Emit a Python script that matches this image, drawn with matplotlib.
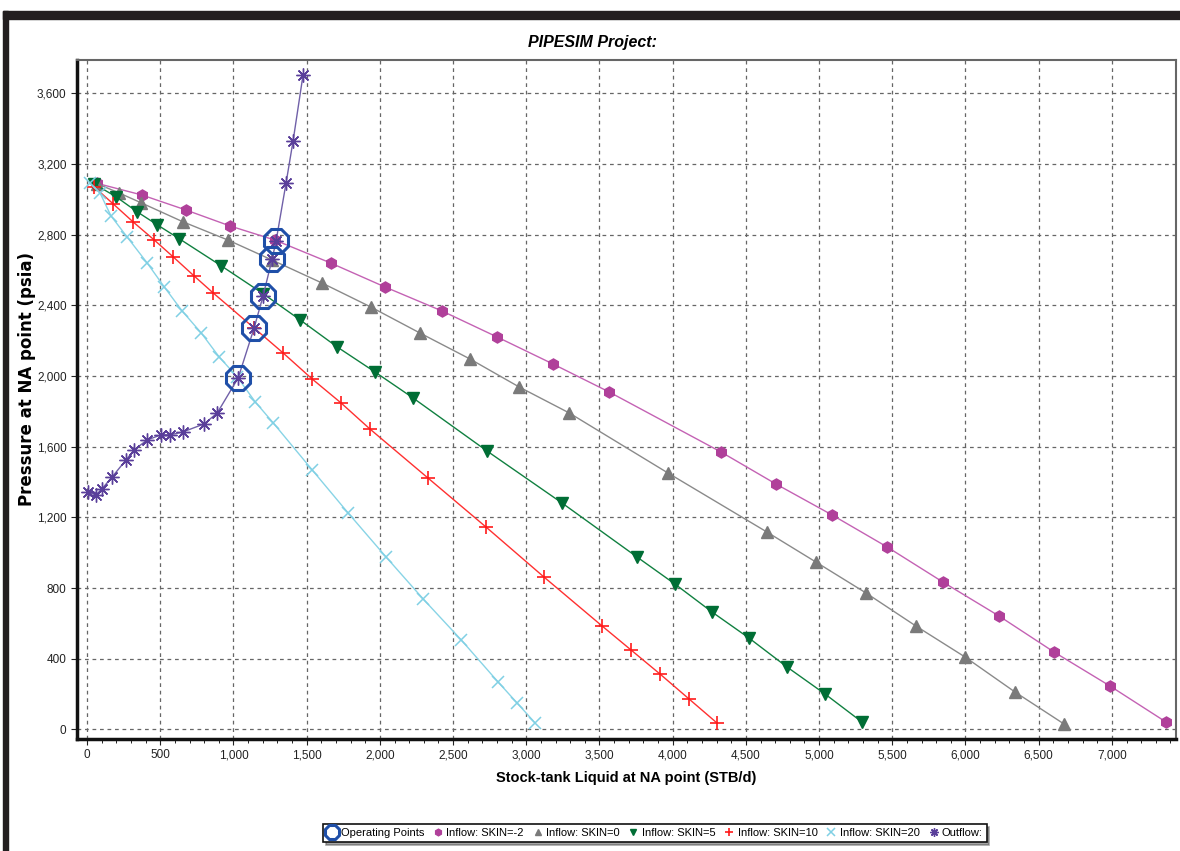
import matplotlib
matplotlib.use("Agg")
import matplotlib.pyplot as plt
from matplotlib.ticker import FuncFormatter, MultipleLocator
from matplotlib.patches import Rectangle

plt.rcParams['font.family'] = ['Liberation Sans', 'DejaVu Sans']

# inflow curves
skm2_q = [68, 375, 676, 976, 1283, 1665, 2034, 2424, 2800, 3182, 3565, 4330, 4705, 5088, 5464, 5846, 6229, 6605, 6987, 7370]
skm2_p = [3090, 3024, 2939, 2849, 2769, 2639, 2504, 2368, 2221, 2068, 1910, 1570, 1389, 1214, 1033, 834, 642, 438, 246, 42]

sk0_q = [68, 218, 369, 656, 963, 1264, 1605, 1939, 2274, 2616, 2951, 3293, 3968, 4644, 4979, 5321, 5662, 5997, 6338, 6673]
sk0_p = [3088, 3036, 2980, 2872, 2769, 2656, 2526, 2390, 2243, 2096, 1938, 1791, 1451, 1117, 947, 772, 585, 410, 212, 31]

sk5_q = [48, 198, 342, 478, 629, 915, 1202, 1454, 1707, 1966, 2226, 2731, 3243, 3756, 4015, 4268, 4520, 4780, 5040, 5293]
sk5_p = [3087, 3014, 2929, 2856, 2777, 2624, 2466, 2318, 2165, 2023, 1876, 1576, 1282, 976, 823, 665, 518, 354, 201, 42]

sk10_q = [48, 178, 314, 458, 588, 731, 861, 1140, 1338, 1536, 1734, 1932, 2328, 2724, 3120, 3517, 3715, 3913, 4111, 4302]
sk10_p = [3070, 2974, 2872, 2770, 2674, 2566, 2470, 2272, 2131, 1984, 1848, 1700, 1423, 1146, 863, 586, 450, 314, 173, 37]

sk20_q = [20, 88, 163, 273, 410, 527, 649, 779, 902, 1025, 1148, 1271, 1537, 1783, 2042, 2295, 2555, 2807, 2937, 3060]
sk20_p = [3090, 3036, 2906, 2787, 2640, 2504, 2368, 2244, 2108, 1995, 1854, 1735, 1469, 1225, 976, 739, 507, 269, 150, 37]

out_q = [6, 60, 101, 171, 266, 321, 410, 505, 567, 656, 800, 889, 1032, 1141, 1202, 1264, 1291, 1359, 1407, 1475]
out_p = [1344, 1327, 1361, 1429, 1525, 1582, 1638, 1667, 1667, 1684, 1729, 1791, 1989, 2272, 2453, 2662, 2764, 3092, 3330, 3703]

op_q = [1032, 1141, 1202, 1264, 1291]
op_p = [1989, 2272, 2453, 2662, 2764]

fig = plt.figure(figsize=(11.8, 8.51), dpi=100)
ax = fig.add_axes([77/1180, 1 - 739/851, (1176 - 77)/1180, (739 - 60)/851])

# dark frame of the screenshot
fig.patches.append(Rectangle((3/1180, 1 - 19/851), 1, 8/851, transform=fig.transFigure,
                             color='#231f20', zorder=0))
fig.patches.append(Rectangle((3/1180, 0), 5/1180, 1 - 11/851, transform=fig.transFigure,
                             color='#231f20', zorder=0))

ax.plot(skm2_q, skm2_p, color='#c462b4', lw=1, marker='h', ms=8, mfc='#b0409a', mec='#b0409a',
        label='Inflow: SKIN=-2', zorder=3)
ax.plot(sk0_q, sk0_p, color='#8a8a8a', lw=1, marker='^', ms=8, mfc='#7a7a7a', mec='#7a7a7a',
        label='Inflow: SKIN=0', zorder=3)
ax.plot(sk5_q, sk5_p, color='#108040', lw=1, marker='v', ms=8, mfc='#006e35', mec='#006e35',
        label='Inflow: SKIN=5', zorder=3)
ax.plot(sk10_q, sk10_p, color='#ff3030', lw=1, marker='+', ms=10, mew=1.2, mec='#ff1a1a',
        label='Inflow: SKIN=10', zorder=3)
ax.plot(sk20_q, sk20_p, color='#88d4e6', lw=1, marker='x', ms=9, mew=1.1, mec='#80d0e4',
        label='Inflow: SKIN=20', zorder=3)
ax.plot(out_q, out_p, color='#7060a8', lw=1, marker=(8, 2, 0), ms=10, mew=1, mec='#5a3f9a',
        label='Outflow:', zorder=4)
ax.plot(op_q, op_p, ls='none', marker='8', ms=18, mfc='none', mec='#1f4fa8', mew=2.2,
        label='Operating Points', zorder=5)

ax.set_xlim(-69, 7438)
ax.set_ylim(-54, 3788)
ax.xaxis.set_major_locator(MultipleLocator(500))
ax.xaxis.set_minor_locator(MultipleLocator(100))
ax.yaxis.set_major_locator(MultipleLocator(400))
fmt = FuncFormatter(lambda v, p: f'{v:,.0f}')
ax.xaxis.set_major_formatter(fmt)
ax.yaxis.set_major_formatter(fmt)
ax.tick_params(labelsize=8.5, colors='#222222', length=4)
ax.tick_params(axis='x', which='minor', length=3)
ax.grid(True, color='#666666', ls=(0, (3, 3)), lw=0.9)
ax.set_axisbelow(True)

for side in ['top', 'right']:
    ax.spines[side].set_color('#666666')
    ax.spines[side].set_linewidth(1.5)
for side in ['left', 'bottom']:
    ax.spines[side].set_color('#111111')
    ax.spines[side].set_linewidth(2.5)

ax.set_xlabel('Stock-tank Liquid at NA point (STB/d)', fontsize=10.5, fontweight='bold', labelpad=7)
ax.set_ylabel('Pressure at NA point (psia)', family=['DejaVu Sans'],
              fontsize=12, fontweight='bold')
ax.yaxis.set_label_coords(-0.037, 0.53)
fig.text(593/1180, 1 - 42/851, 'PIPESIM Project:', ha='center', va='center',
         fontsize=11.5, fontweight='bold', style='italic')

h, l = ax.get_legend_handles_labels()
order = [6, 0, 1, 2, 3, 4, 5]
leg = fig.legend([h[i] for i in order], [l[i] for i in order], loc='center',
                 bbox_to_anchor=(655/1180, 1 - 833/851), ncol=7, fontsize=8,
                 frameon=True, fancybox=False, shadow=True, handlelength=0.9,
                 handletextpad=0.3, columnspacing=0.8, borderpad=0.35, markerscale=0.6)
leg.get_frame().set_edgecolor('#111111')
leg.get_frame().set_linewidth(1.2)
for ln in leg.get_lines():
    ln.set_linestyle('none')

fig.savefig('out.png', dpi=100)
